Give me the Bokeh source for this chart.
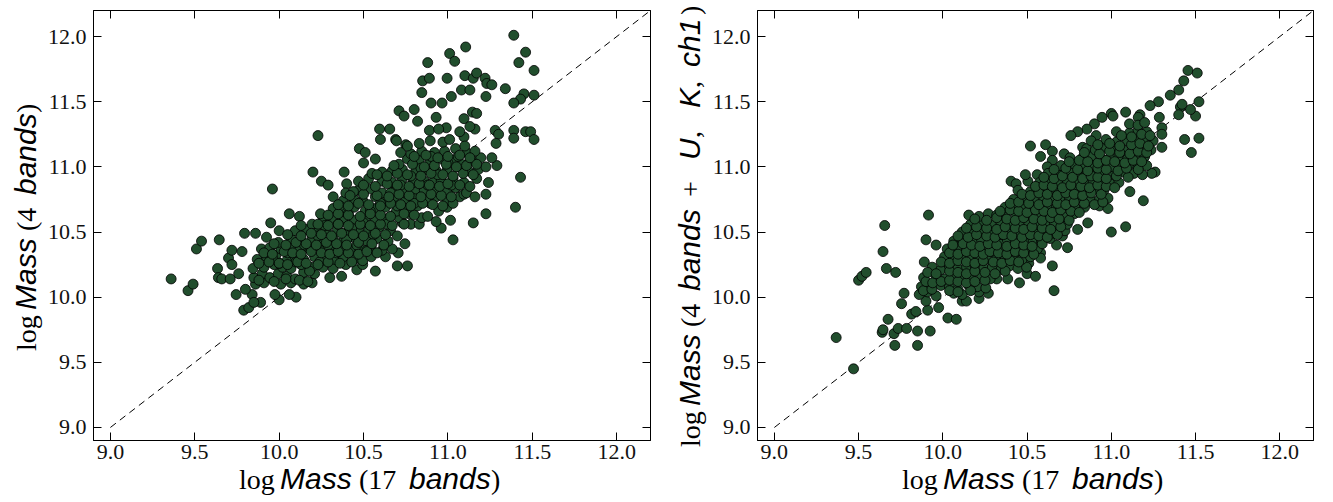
from bokeh.plotting import figure
from bokeh.models import LinearAxis, FixedTicker, PrintfTickFormatter, Range1d, Div
from bokeh.layouts import row, column
from bokeh.embed import file_html
from bokeh.resources import INLINE

# ------------------------------------------------------------------ data
ticks = [9.0, 9.5, 10.0, 10.5, 11.0, 11.5, 12.0]
one_to_one = [9.0, 12.2]

# ---- left panel: log Mass (17 bands) vs log Mass (4 bands)
x17_a_low = [9.36, 9.46, 9.49, 9.51, 9.54, 9.645, 9.635, 9.64, 9.66, 9.71, 9.70, 9.72, 9.72, 9.76,
             9.78, 9.795, 9.86, 9.96, 9.745, 9.79, 9.82, 9.84, 9.89, 9.80, 10.0, 9.975, 10.10]
y4_a_low = [10.14, 10.05, 10.10, 10.37, 10.43, 10.44, 10.22, 10.15, 10.14, 10.14, 10.30, 10.36, 10.25, 10.18,
            10.35, 10.49, 10.49, 10.83, 10.02, 9.90, 9.92, 10.02, 9.96, 10.06, 9.98, 10.02, 10.00]

x17_a_mid = [10.23, 10.20, 10.25, 10.29, 10.06, 9.95, 10.0, 10.12, 10.385, 10.40, 10.475, 10.50, 10.51,
             10.57, 10.595, 10.60, 10.655, 10.69, 10.71, 10.74, 10.75, 10.80, 10.82]
y4_a_mid = [11.24, 10.96, 10.89, 10.86, 10.64, 10.57, 10.51, 10.62, 10.96, 10.87, 11.14, 11.03, 11.11,
            11.06, 11.29, 11.21, 11.29, 11.21, 11.43, 11.39, 11.17, 11.44, 11.35]

x17_a_top = [10.845, 10.85, 10.89, 10.88, 10.90, 10.93, 10.89, 10.965, 10.99, 10.995, 11.01, 11.04, 11.02,
             11.08, 11.105, 11.10, 11.13, 11.15, 11.17, 11.22, 11.23, 11.26, 11.225, 11.34, 11.39, 11.42,
             11.46, 11.45, 11.43, 11.39, 11.51, 11.51]
y4_a_top = [11.57, 11.66, 11.68, 11.80, 11.49, 11.38, 11.28, 11.49, 11.30, 11.68, 11.87, 11.81, 11.54,
            11.59, 11.92, 11.70, 11.59, 11.68, 11.72, 11.68, 11.64, 11.63, 11.54, 11.60, 12.01, 11.80,
            11.88, 11.56, 11.52, 11.49, 11.74, 11.55]

x17_a_right = [11.39, 11.46, 11.49, 11.39, 11.51, 11.43, 11.40, 11.28, 11.30, 11.285, 11.29, 11.26, 11.24,
               11.225, 11.225, 11.15, 11.03, 10.96, 11.015, 10.93, 11.145, 11.17, 11.095, 11.16, 11.13]
y4_a_right = [11.28, 11.27, 11.27, 11.22, 11.21, 10.92, 10.69, 11.28, 11.25, 11.18, 11.01, 11.07, 10.88,
              10.79, 10.64, 10.57, 10.44, 10.53, 10.59, 10.58, 11.42, 11.41, 11.37, 11.29, 11.31]

x17_a_edge = [10.76, 10.70, 10.705, 10.63, 10.57, 10.46, 10.37, 10.30, 10.06, 9.85]
y4_a_edge = [10.24, 10.24, 10.34, 10.31, 10.20, 10.21, 10.16, 10.15, 10.02, 9.96]

x17_a_core = [
    9.86, 9.91, 10.01, 10.07, 10.145, 10.195,
    9.85, 9.90, 9.945, 9.995, 10.045, 10.095, 10.145, 10.21,
    9.845, 9.91, 9.97, 10.02, 10.07, 10.13, 10.195, 10.26, 10.32, 10.395, 10.495,
    9.87, 9.925, 9.98, 10.045, 10.095, 10.145, 10.21, 10.27, 10.33, 10.38, 10.445, 10.495, 10.545,
    9.895, 9.945, 10.01, 10.07, 10.12, 10.18, 10.245, 10.31, 10.36, 10.42, 10.48, 10.545, 10.61, 10.67,
    9.925, 9.995, 10.07, 10.13, 10.195, 10.26, 10.32, 10.38, 10.445, 10.52, 10.58, 10.645, 10.745,
    10.095, 10.16, 10.22, 10.28, 10.345, 10.41, 10.47, 10.53, 10.595, 10.66, 10.73, 10.78, 10.83,
    10.195, 10.26, 10.32, 10.38, 10.445, 10.51, 10.57, 10.63, 10.71, 10.77, 10.845,
    10.245, 10.32, 10.38, 10.445, 10.51, 10.57, 10.63, 10.695, 10.76, 10.82, 10.895, 10.945, 10.995,
    10.32, 10.38, 10.445, 10.495, 10.57, 10.62, 10.68, 10.745, 10.81, 10.87, 10.93, 10.995, 11.07, 11.095,
    10.395, 10.47, 10.545, 10.61, 10.68, 10.745, 10.81, 10.86, 10.92, 10.995, 11.045, 11.11, 11.16,
    10.47, 10.53, 10.61, 10.67, 10.73, 10.795, 10.86, 10.91, 10.96, 11.03, 11.095, 11.17,
    10.61, 10.67, 10.73, 10.81, 10.87, 10.93, 10.995, 11.06, 11.12, 11.18, 11.225,
    10.71, 10.76, 10.83, 10.895, 10.96, 11.03, 11.08, 11.16, 11.195,
    10.72, 10.78, 10.845, 10.92, 10.98, 11.045, 11.11, 11.16,
    10.695, 10.76, 10.83, 10.895, 10.97, 11.01, 11.095, 10.945, 11.07,
    10.23, 10.29, 10.35, 10.41, 10.43, 10.46, 10.50, 10.54, 10.56, 10.60,
    10.64, 10.66, 10.70, 10.72, 10.78, 10.80, 10.84, 10.88, 10.90, 10.94,
    11.00, 11.02, 11.06, 11.10, 11.13, 10.15, 10.10, 10.05, 10.00, 9.96,
    10.18, 10.24, 10.34, 10.40, 10.52, 10.27, 10.36, 10.44, 10.55,
]
y4_a_core = [
    10.10, 10.11, 10.10, 10.11, 10.10, 10.11,
    10.15, 10.18, 10.15, 10.18, 10.16, 10.14, 10.19, 10.18,
    10.22, 10.23, 10.25, 10.23, 10.22, 10.25, 10.23, 10.23, 10.22, 10.25, 10.25,
    10.29, 10.31, 10.32, 10.28, 10.31, 10.29, 10.31, 10.32, 10.29, 10.31, 10.29, 10.28, 10.31,
    10.37, 10.38, 10.37, 10.38, 10.36, 10.37, 10.38, 10.37, 10.38, 10.36, 10.37, 10.38, 10.36, 10.37,
    10.46, 10.42, 10.45, 10.43, 10.45, 10.43, 10.45, 10.43, 10.46, 10.43, 10.45, 10.43, 10.41,
    10.51, 10.52, 10.51, 10.51, 10.52, 10.51, 10.52, 10.51, 10.54, 10.51, 10.57, 10.56, 10.56,
    10.56, 10.61, 10.59, 10.60, 10.59, 10.61, 10.59, 10.60, 10.61, 10.64, 10.61,
    10.64, 10.68, 10.66, 10.69, 10.66, 10.68, 10.69, 10.66, 10.68, 10.70, 10.72, 10.66, 10.69,
    10.77, 10.74, 10.75, 10.74, 10.77, 10.74, 10.75, 10.74, 10.77, 10.74, 10.77, 10.74, 10.77, 10.79,
    10.80, 10.82, 10.83, 10.80, 10.83, 10.80, 10.83, 10.82, 10.82, 10.82, 10.84, 10.80, 10.77,
    10.89, 10.91, 10.89, 10.88, 10.91, 10.88, 10.89, 10.88, 10.89, 10.91, 10.88, 10.91,
    10.96, 10.97, 10.98, 10.97, 10.98, 10.97, 10.98, 11.00, 10.97, 10.98, 11.00,
    11.02, 11.06, 11.05, 11.04, 11.06, 11.05, 11.02, 11.04, 11.07,
    11.11, 11.10, 11.12, 11.11, 11.12, 11.14, 11.11, 11.12,
    11.20, 11.16, 11.18, 11.20, 11.19, 11.21, 11.23, 11.29, 11.27,
    10.47, 10.40, 10.56, 10.64, 10.53, 10.40, 10.57, 10.66, 10.48, 10.72,
    10.56, 10.80, 10.70, 10.86, 10.93, 10.72, 10.99, 10.86, 11.08, 10.94,
    11.03, 10.86, 11.08, 11.16, 11.05, 10.40, 10.27, 10.34, 10.26, 10.30,
    10.20, 10.27, 10.34, 10.44, 10.36, 10.55, 10.70, 10.81, 10.95,
]

x17_a_fill = [
    9.88, 9.97, 10.04, 10.12, 10.17,
    9.88, 9.94, 10.00, 10.05, 10.11, 10.16, 10.23, 10.29, 10.36, 10.43,
    9.91, 9.96, 10.03, 10.08, 10.13, 10.19, 10.25, 10.30, 10.35, 10.41, 10.47, 10.52, 10.58,
    9.97, 10.04, 10.10, 10.16, 10.22, 10.28, 10.34, 10.40, 10.47, 10.55, 10.62,
    10.05, 10.13, 10.19, 10.25, 10.31, 10.37, 10.44, 10.50, 10.57, 10.63, 10.70,
    10.13, 10.23, 10.29, 10.35, 10.41, 10.48, 10.54, 10.60, 10.67, 10.74,
    10.29, 10.35, 10.41, 10.48, 10.54, 10.60, 10.66, 10.74, 10.80, 10.88,
    10.35, 10.41, 10.47, 10.53, 10.60, 10.66, 10.72, 10.78, 10.85, 10.91, 10.97, 11.03,
    10.42, 10.50, 10.58, 10.65, 10.71, 10.77, 10.84, 10.90, 10.96, 11.02,
    10.50, 10.57, 10.64, 10.70, 10.77, 10.83, 10.89, 10.95, 11.00, 11.07, 11.13,
    10.58, 10.64, 10.70, 10.76, 10.84, 10.90, 10.97, 11.03, 11.09, 11.15,
    10.68, 10.79, 10.86, 10.92, 10.99, 11.05, 11.11, 11.17,
    10.80, 10.87, 10.94, 11.00, 11.07, 11.13,
]
y4_a_fill = [
    10.13, 10.12, 10.14, 10.13, 10.12,
    10.26, 10.27, 10.26, 10.25, 10.27, 10.26, 10.25, 10.27, 10.26, 10.27,
    10.34, 10.33, 10.35, 10.34, 10.33, 10.35, 10.34, 10.33, 10.35, 10.34, 10.33, 10.35, 10.34,
    10.41, 10.40, 10.42, 10.41, 10.40, 10.42, 10.41, 10.40, 10.42, 10.41, 10.40,
    10.48, 10.47, 10.49, 10.48, 10.47, 10.49, 10.48, 10.47, 10.49, 10.48, 10.47,
    10.55, 10.56, 10.55, 10.56, 10.55, 10.56, 10.55, 10.56, 10.55, 10.56,
    10.63, 10.64, 10.63, 10.62, 10.64, 10.63, 10.62, 10.64, 10.63, 10.62,
    10.71, 10.70, 10.72, 10.71, 10.70, 10.72, 10.71, 10.70, 10.72, 10.71, 10.70, 10.72,
    10.78, 10.79, 10.78, 10.77, 10.79, 10.78, 10.77, 10.79, 10.78, 10.77,
    10.86, 10.85, 10.87, 10.86, 10.85, 10.87, 10.86, 10.85, 10.87, 10.86, 10.85,
    10.94, 10.93, 10.95, 10.94, 10.93, 10.95, 10.94, 10.93, 10.95, 10.94,
    11.01, 11.02, 11.00, 11.01, 11.02, 11.00, 11.01, 11.02,
    11.08, 11.09, 11.07, 11.08, 11.09, 11.07,
]

# ---- right panel: log Mass (17 bands) vs log Mass (4 bands + U, K, ch1)
x17_b_low = [9.367, 9.47, 9.50, 9.52, 9.545, 9.655, 9.645, 9.665, 9.675, 9.72, 9.64, 9.645, 9.71, 9.715,
             9.735, 9.785, 9.85, 9.85, 9.925, 9.755, 9.77, 9.815, 9.84, 9.90, 9.915, 9.96, 9.89, 10.03, 10.08]
y4uk_b_low = [9.69, 9.45, 10.13, 10.16, 10.19, 10.55, 10.35, 10.22, 9.83, 10.19, 9.73, 9.75, 9.72, 9.63,
              9.76, 9.76, 9.74, 9.63, 9.74, 9.95, 10.03, 9.87, 9.89, 10.44, 10.63, 10.40, 10.27, 9.84, 9.83]

x17_b_mid = [10.52, 10.61, 10.66, 10.65, 10.58, 11.0, 11.085, 11.11, 11.19]
y4uk_b_mid = [11.16, 11.17, 10.05, 10.24, 11.08, 10.50, 10.54, 10.81, 10.74]

x17_b_top = [11.435, 11.475, 11.52, 11.50, 11.52, 11.47, 11.41, 11.40, 11.42, 11.40,
             11.43, 11.455, 11.51, 11.35, 11.28, 11.23, 11.285, 11.30, 11.30, 11.30,
             11.26, 11.24, 11.17, 11.16, 11.085, 11.0, 11.01, 10.945, 10.90, 10.91,
             10.855, 10.80, 10.76, 10.83, 10.93, 10.72, 10.755, 10.65, 10.65, 10.62, 10.715]
y4uk_b_top = [11.21, 11.11, 11.22, 11.39, 11.50, 11.44, 11.46, 11.40, 11.48, 11.59,
              11.66, 11.74, 11.72, 11.55, 11.50, 11.47, 11.38, 11.30, 11.25, 11.15,
              10.96, 10.95, 11.40, 11.38, 11.42, 11.41, 11.39, 11.38, 11.33, 11.24,
              11.29, 11.27, 11.24, 11.15, 11.16, 11.10, 11.07, 11.12, 11.05, 11.0, 11.0]

x17_b_edge = [10.405, 10.435, 10.505, 10.49, 10.56, 10.86, 10.80, 10.74, 10.675, 10.71, 10.58, 10.58, 10.51,
              10.50, 10.55, 10.455, 10.385, 10.32, 10.27, 10.215, 10.18, 10.115, 10.14, 9.975, 9.91, 9.90, 9.95]
y4uk_b_edge = [10.89, 10.87, 10.89, 10.94, 10.94, 10.57, 10.52, 10.38, 10.40, 10.47, 10.34, 10.30, 10.26,
               10.18, 10.16, 10.11, 10.14, 10.14, 10.03, 9.99, 10.11, 9.97, 9.97, 9.92, 9.90, 9.97, 10.11]

x17_b_core = [
    9.86, 9.91, 9.96, 10.065, 10.115, 10.215,
    9.873, 9.924, 9.988, 10.039, 10.09, 10.154, 10.204, 10.255,
    9.886, 9.96, 10.01, 10.065, 10.115, 10.165, 10.23, 10.281,
    9.937, 9.988, 10.039, 10.09, 10.141, 10.192, 10.243, 10.294, 10.345, 10.396, 10.446, 10.497,
    10.01, 10.065, 10.115, 10.165, 10.215, 10.27, 10.32, 10.37, 10.42, 10.47, 10.52,
    10.026, 10.09, 10.141, 10.192, 10.243, 10.306, 10.357, 10.408, 10.459, 10.51, 10.561,
    10.065, 10.115, 10.179, 10.23, 10.281, 10.332, 10.383, 10.434, 10.485, 10.536, 10.586, 10.637,
    10.115, 10.165, 10.23, 10.294, 10.345, 10.396, 10.446, 10.497, 10.548, 10.599, 10.663, 10.725,
    10.165, 10.23, 10.294, 10.345, 10.408, 10.459, 10.51, 10.561, 10.612, 10.663, 10.739,
    10.154, 10.215, 10.27, 10.32, 10.37, 10.434, 10.497, 10.561, 10.612, 10.663, 10.714, 10.78,
    10.37, 10.42, 10.47, 10.52, 10.575, 10.625, 10.675, 10.739, 10.79, 10.841, 10.93, 10.98,
    10.42, 10.485, 10.548, 10.599, 10.65, 10.701, 10.752, 10.803, 10.88, 10.93, 10.98,
    10.446, 10.52, 10.575, 10.625, 10.675, 10.739, 10.79, 10.854, 10.905, 10.956,
    10.575, 10.625, 10.688, 10.739, 10.79, 10.841, 10.892, 10.943, 10.994, 11.045,
    10.625, 10.701, 10.752, 10.803, 10.854, 10.905, 10.956, 11.019, 11.07, 11.135, 11.185,
    10.701, 10.78, 10.841, 10.892, 10.943, 10.994, 11.058, 11.108, 11.159, 11.21,
    10.83, 10.88, 10.943, 10.994, 11.045, 11.096, 11.147, 11.198,
    10.854, 10.905, 10.968, 11.019, 11.07, 11.135, 11.185, 11.235,
    10.88, 10.968, 11.03, 11.096, 11.147, 11.198, 11.248,
    11.03, 11.108, 11.159, 11.21, 11.108, 11.159, 11.198,
]
y4uk_b_core = [
    10.02, 10.04, 10.01, 10.03, 10.02, 10.04,
    10.08, 10.07, 10.09, 10.08, 10.06, 10.09, 10.08, 10.07,
    10.15, 10.16, 10.14, 10.15, 10.17, 10.15, 10.16, 10.14,
    10.23, 10.21, 10.24, 10.22, 10.23, 10.24, 10.22, 10.23, 10.21, 10.24, 10.22, 10.23,
    10.31, 10.29, 10.32, 10.30, 10.31, 10.29, 10.32, 10.30, 10.31, 10.29, 10.31,
    10.37, 10.38, 10.36, 10.38, 10.37, 10.36, 10.38, 10.37, 10.36, 10.38, 10.37,
    10.43, 10.44, 10.42, 10.44, 10.43, 10.42, 10.44, 10.43, 10.42, 10.44, 10.43, 10.45,
    10.50, 10.49, 10.51, 10.50, 10.48, 10.51, 10.50, 10.49, 10.51, 10.50, 10.49, 10.51,
    10.56, 10.57, 10.55, 10.57, 10.56, 10.55, 10.57, 10.56, 10.55, 10.57, 10.56,
    10.63, 10.62, 10.64, 10.63, 10.62, 10.64, 10.63, 10.62, 10.64, 10.63, 10.62, 10.64,
    10.69, 10.70, 10.68, 10.69, 10.70, 10.68, 10.69, 10.70, 10.68, 10.69, 10.70, 10.68,
    10.75, 10.76, 10.74, 10.75, 10.76, 10.74, 10.75, 10.76, 10.74, 10.75, 10.76,
    10.82, 10.81, 10.83, 10.82, 10.81, 10.83, 10.82, 10.81, 10.83, 10.82,
    10.88, 10.89, 10.87, 10.88, 10.89, 10.87, 10.88, 10.89, 10.87, 10.88,
    10.95, 10.94, 10.96, 10.95, 10.94, 10.96, 10.95, 10.94, 10.96, 10.95, 10.94,
    11.01, 11.02, 11.00, 11.01, 11.02, 11.00, 11.01, 11.02, 11.00, 11.01,
    11.07, 11.08, 11.06, 11.07, 11.08, 11.06, 11.07, 11.08,
    11.14, 11.13, 11.15, 11.14, 11.13, 11.15, 11.14, 11.13,
    11.20, 11.21, 11.19, 11.20, 11.21, 11.19, 11.20,
    11.27, 11.26, 11.28, 11.27, 11.33, 11.32, 11.34,
]

x17_b_fill = [
    9.885, 9.935, 10.04, 10.09, 10.165,
    9.90, 9.94, 9.99, 10.04, 10.09, 10.14, 10.19, 10.25,
    9.91, 9.96, 10.04, 10.09, 10.14, 10.19, 10.25, 10.31, 10.37,
    9.99, 10.04, 10.09, 10.14, 10.19, 10.24, 10.30, 10.35, 10.40, 10.45,
    10.04, 10.09, 10.14, 10.19, 10.24, 10.28, 10.33, 10.38, 10.43, 10.48, 10.54,
    10.06, 10.12, 10.17, 10.22, 10.27, 10.32, 10.38, 10.43, 10.48, 10.53, 10.59,
    10.09, 10.15, 10.20, 10.26, 10.31, 10.36, 10.41, 10.47, 10.52, 10.57, 10.62, 10.68,
    10.14, 10.20, 10.26, 10.32, 10.37, 10.43, 10.48, 10.53, 10.59, 10.64, 10.70,
    10.19, 10.26, 10.32, 10.38, 10.43, 10.48, 10.54, 10.59, 10.64, 10.69, 10.75,
    10.34, 10.40, 10.45, 10.50, 10.55, 10.60, 10.65, 10.70, 10.76, 10.81,
    10.40, 10.45, 10.51, 10.57, 10.62, 10.68, 10.73, 10.78, 10.84, 10.90, 10.95,
    10.47, 10.52, 10.57, 10.62, 10.68, 10.73, 10.78, 10.83, 10.88, 10.94,
    10.55, 10.60, 10.65, 10.71, 10.76, 10.82, 10.87, 10.92, 10.97, 11.02,
    10.60, 10.66, 10.71, 10.77, 10.83, 10.88, 10.92, 10.97, 11.03, 11.10,
    10.66, 10.73, 10.80, 10.86, 10.92, 10.97, 11.04, 11.09, 11.16,
    10.75, 10.81, 10.86, 10.92, 10.97, 11.02, 11.08, 11.13, 11.18,
    10.84, 10.93, 10.99, 11.05, 11.11, 11.16, 11.21,
    10.92, 10.99, 11.05, 11.12, 11.17, 11.22,
    11.06, 11.12, 11.18, 11.23,
]
y4uk_b_fill = [
    10.05, 10.06, 10.05, 10.04, 10.05,
    10.12, 10.11, 10.12, 10.13, 10.12, 10.11, 10.12, 10.13,
    10.19, 10.18, 10.20, 10.19, 10.18, 10.20, 10.19, 10.18, 10.20,
    10.27, 10.26, 10.28, 10.27, 10.26, 10.28, 10.27, 10.26, 10.28, 10.27,
    10.34, 10.33, 10.35, 10.34, 10.33, 10.35, 10.34, 10.33, 10.35, 10.34, 10.33,
    10.40, 10.41, 10.40, 10.39, 10.41, 10.40, 10.39, 10.41, 10.40, 10.39, 10.41,
    10.47, 10.46, 10.48, 10.47, 10.46, 10.48, 10.47, 10.46, 10.48, 10.47, 10.46, 10.48,
    10.53, 10.54, 10.53, 10.52, 10.54, 10.53, 10.52, 10.54, 10.53, 10.52, 10.54,
    10.60, 10.59, 10.61, 10.60, 10.59, 10.61, 10.60, 10.59, 10.61, 10.60, 10.59,
    10.66, 10.67, 10.66, 10.65, 10.67, 10.66, 10.65, 10.67, 10.66, 10.65,
    10.72, 10.73, 10.72, 10.71, 10.73, 10.72, 10.71, 10.73, 10.72, 10.71, 10.73,
    10.79, 10.78, 10.80, 10.79, 10.78, 10.80, 10.79, 10.78, 10.80, 10.79,
    10.85, 10.86, 10.85, 10.84, 10.86, 10.85, 10.84, 10.86, 10.85, 10.84,
    10.92, 10.91, 10.93, 10.92, 10.91, 10.93, 10.92, 10.91, 10.93, 10.92,
    10.98, 10.99, 10.98, 10.97, 10.99, 10.98, 10.97, 10.99, 10.98,
    11.04, 11.05, 11.04, 11.03, 11.05, 11.04, 11.03, 11.05, 11.04,
    11.11, 11.10, 11.12, 11.11, 11.10, 11.12, 11.11,
    11.17, 11.18, 11.16, 11.17, 11.18, 11.16,
    11.24, 11.23, 11.25, 11.24,
]

x17_a = x17_a_low + x17_a_mid + x17_a_top + x17_a_right + x17_a_edge + x17_a_core + x17_a_fill
y4_a = y4_a_low + y4_a_mid + y4_a_top + y4_a_right + y4_a_edge + y4_a_core + y4_a_fill
x17_b = x17_b_low + x17_b_mid + x17_b_top + x17_b_edge + x17_b_core + x17_b_fill
y4uk_b = y4uk_b_low + y4uk_b_mid + y4uk_b_top + y4uk_b_edge + y4uk_b_core + y4uk_b_fill
if len(x17_a) != len(y4_a) or len(x17_b) != len(y4uk_b):
    raise SystemExit("length mismatch %d %d %d %d" % (len(x17_a), len(y4_a), len(x17_b), len(y4uk_b)))

# axis-title pieces: (text, style, offset along the text in px)
xlab = [("log", "s", 0), ("Mass", "i", 41), ("(17", "s", 120), ("bands", "i", 170), (")", "s", 252)]
ylab_a = [("log", "s", 0), ("Mass", "i", 41), ("(4", "s", 120), ("bands", "i", 156), (")", "s", 238)]
ylab_b = [("log", "s", 0), ("Mass", "i", 41), ("(4", "s", 120), ("bands", "i", 156), ("+", "s", 250),
          ("U", "i", 287), (",", "s", 309), ("K", "i", 339), (",", "s", 359), ("ch1", "i", 380),
          (")", "s", 432)]

# ------------------------------------------------------------------ styling
X_RANGE = (8.9, 12.2)
Y_RANGE = (8.9, 12.2)
FILL = "#214e2d"
SERIF = "Liberation Serif"
SANS = "Liberation Sans"
H = 502
MAIN_H = 470
LINE_H = 34
BASE_IN_LINE = 26.4   # baseline position inside a 34 px line box (28 px serif)
STYLES = {
    "s": (SERIF, "normal", "28px", 0),
    "i": (SANS, "italic", "30px", -1),
}


def style_axis(ax, show, standoff=8):
    ax.ticker = FixedTicker(ticks=ticks)
    ax.formatter = PrintfTickFormatter(format="%.1f")
    ax.major_tick_in = 8
    ax.major_tick_out = 0
    ax.minor_tick_line_color = None
    ax.axis_line_color = "black"
    ax.major_tick_line_color = "black"
    ax.major_label_text_font = SERIF
    ax.major_label_text_color = "#111111"
    ax.major_label_standoff = standoff
    if show:
        ax.major_label_text_font_size = "22px"
    else:
        ax.major_label_overrides = {t: "" for t in ticks}
        ax.major_label_text_font_size = "1px"
        ax.major_label_standoff = 0


def title_div(segs, w, h, left, baseline, vertical):
    spans = []
    for text, kind, off in segs:
        font, style, size, dy = STYLES[kind]
        spans.append(
            f'<span style="position:absolute;left:{off}px;top:{dy}px;font-family:\'{font}\';'
            f'font-style:{style};font-weight:normal;font-size:{size};line-height:{LINE_H}px;'
            f'white-space:nowrap;color:#000000;">{text}</span>')
    length = max(off for _, _, off in segs) + 60
    if vertical:
        # box rotated about its top-left corner: text runs upward from (baseline, left)
        pos = f"left:{baseline - BASE_IN_LINE:.1f}px;top:{left}px;"
        rot = "transform:rotate(-90deg);transform-origin:0 0;"
    else:
        pos = f"left:{left}px;top:{baseline - BASE_IN_LINE:.1f}px;"
        rot = ""
    html = (f'<div style="position:relative;width:{w}px;height:{h}px;overflow:visible;">'
            f'<div style="position:absolute;{pos}width:{length}px;height:{LINE_H}px;{rot}">'
            + "".join(spans) + "</div></div>")
    return Div(text=html, width=w, height=h, margin=0, styles={"overflow": "visible"})


def make_panel(xs, ys, width, left, right):
    p = figure(width=width, height=MAIN_H, x_range=Range1d(*X_RANGE), y_range=Range1d(*Y_RANGE),
               output_backend="svg", toolbar_location=None, margin=0,
               min_border_left=left, min_border_right=right, min_border_top=10,
               min_border_bottom=MAIN_H - 440)
    p.xgrid.visible = False
    p.ygrid.visible = False
    p.outline_line_color = "black"
    p.outline_line_width = 1
    for ax in p.xaxis:
        style_axis(ax, True, standoff=4)
    for ax in p.yaxis:
        style_axis(ax, True, standoff=7)
    top_ax = LinearAxis()
    right_ax = LinearAxis()
    style_axis(top_ax, False)
    style_axis(right_ax, False)
    p.add_layout(top_ax, "above")
    p.add_layout(right_ax, "right")

    p.line(one_to_one, one_to_one, line_color="black", line_width=1, line_dash="7 5")
    p.scatter(xs, ys, size=10, fill_color=FILL, line_color="black", line_width=0.8)
    return p


# left group (0..660): y-title 44 px, main 616 px (frame 93..650)
ya = title_div(ylab_a, 44, MAIN_H, 351, 36, True)
pa = make_panel(x17_a, y4_a, 616, 49, 10)
xa = title_div(xlab, 660, H - MAIN_H, 239, 489 - MAIN_H, False)

# right group (660..1333): y-title 48 px, main 625 px (frame 755..1313)
yb = title_div(ylab_b, 48, MAIN_H, 447, 40, True)
pb = make_panel(x17_b, y4uk_b, 625, 47, 20)
xb = title_div(xlab, 673, H - MAIN_H, 242, 489 - MAIN_H, False)

layout = row(column(row(ya, pa, margin=0), xa, margin=0),
             column(row(yb, pb, margin=0), xb, margin=0), margin=0)
open("out.html", "w").write(file_html(layout, INLINE))
